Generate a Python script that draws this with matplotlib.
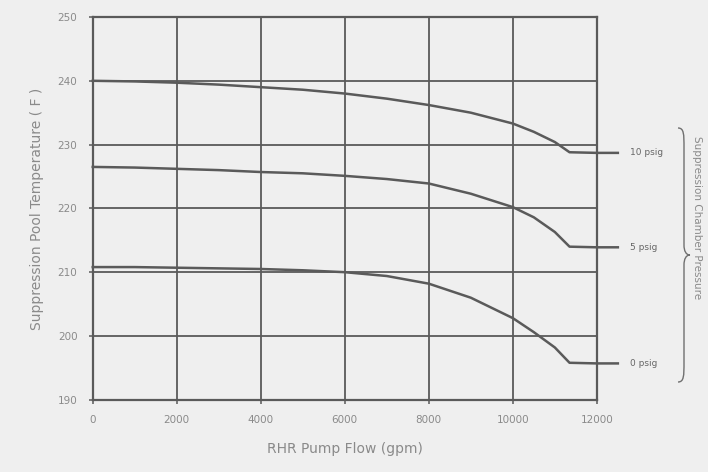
import matplotlib.pyplot as plt
from matplotlib.path import Path
from matplotlib.patches import PathPatch

# RHR pump flow (gpm) and suppression pool temperature (F) per chamber pressure
flow = [0, 1000, 2000, 3000, 4000, 5000, 6000, 7000, 8000, 9000,
        10000, 10500, 11000, 11350, 12000, 12500]
temp_10psig = [240.0, 239.9, 239.7, 239.4, 239.0, 238.6, 238.0, 237.2, 236.2,
               235.0, 233.3, 232.0, 230.4, 228.8, 228.7, 228.7]
temp_5psig = [226.5, 226.4, 226.2, 226.0, 225.7, 225.5, 225.1, 224.6, 223.9,
              222.3, 220.2, 218.6, 216.3, 214.0, 213.9, 213.9]
temp_0psig = [210.8, 210.8, 210.7, 210.6, 210.5, 210.3, 210.0, 209.4, 208.2,
              206.0, 202.8, 200.6, 198.2, 195.8, 195.7, 195.7]
series = [(temp_10psig, '10 psig'), (temp_5psig, '5 psig'), (temp_0psig, '0 psig')]

xticks = [0, 2000, 4000, 6000, 8000, 10000, 12000]
yticks = [190, 200, 210, 220, 230, 240, 250]

bg = '#efefef'
ink = '#5a5a5a'
txt = '#8a8a8a'

fig = plt.figure(figsize=(7.08, 4.72), dpi=100, facecolor=bg)
ax = fig.add_axes([0.131, 0.153, 0.712, 0.811], facecolor=bg)

ax.set_xlim(0, 12000)
ax.set_ylim(190, 250)
ax.set_xticks(xticks)
ax.set_yticks(yticks)
ax.set_xticklabels([str(t) for t in xticks], fontsize=7.5, color=txt)
ax.set_yticklabels([str(t) for t in yticks], fontsize=7.5, color=txt)
ax.tick_params(length=3, width=1.1, color=ink, pad=8)
ax.grid(True, color=ink, linewidth=1.3)
for s in ax.spines.values():
    s.set_color(ink)
    s.set_linewidth(1.6)

# Curves extend past the right axis towards their labels
for temps, name in series:
    ax.plot(flow, temps, color=ink, linewidth=1.8, clip_on=False)
    ax.text(12800, temps[-1], name, fontsize=6.5, color='#666666',
            va='center', ha='left', clip_on=False)

ax.set_xlabel('RHR Pump Flow (gpm)', fontsize=10, color=txt, labelpad=12)
ax.set_ylabel('Suppression Pool Temperature ( F )', fontsize=10, color=txt,
              labelpad=10)

# Curly brace grouping the pressure labels (figure pixel coordinates)
x0, xm, xt = 678, 684, 690
ytop, ymid, ybot = 472 - 128, 472 - 255, 472 - 382
verts = [
    (x0, ytop), (x0 + 6, ytop), (xm, ytop - 6), (xm, ytop - 20),
    (xm, ymid + 10),
    (xm, ymid + 4), (xm + 2, ymid), (xt, ymid),
    (xm + 2, ymid), (xm, ymid - 4), (xm, ymid - 10),
    (xm, ybot + 20),
    (xm, ybot + 6), (x0 + 6, ybot), (x0, ybot),
]
codes = [Path.MOVETO, Path.CURVE4, Path.CURVE4, Path.CURVE4,
         Path.LINETO,
         Path.CURVE4, Path.CURVE4, Path.CURVE4,
         Path.CURVE4, Path.CURVE4, Path.CURVE4,
         Path.LINETO,
         Path.CURVE4, Path.CURVE4, Path.CURVE4]
verts = [(vx / 708, vy / 472) for vx, vy in verts]
brace = PathPatch(Path(verts, codes), transform=fig.transFigure,
                  fill=False, edgecolor='#707070', linewidth=1.0)
fig.patches.append(brace)

fig.text(0.984, 0.54, 'Suppression Chamber Pressure', rotation=270,
         fontsize=7.5, color='#8a8a8a', ha='center', va='center')

fig.savefig('out.png', dpi=100, facecolor=bg)
